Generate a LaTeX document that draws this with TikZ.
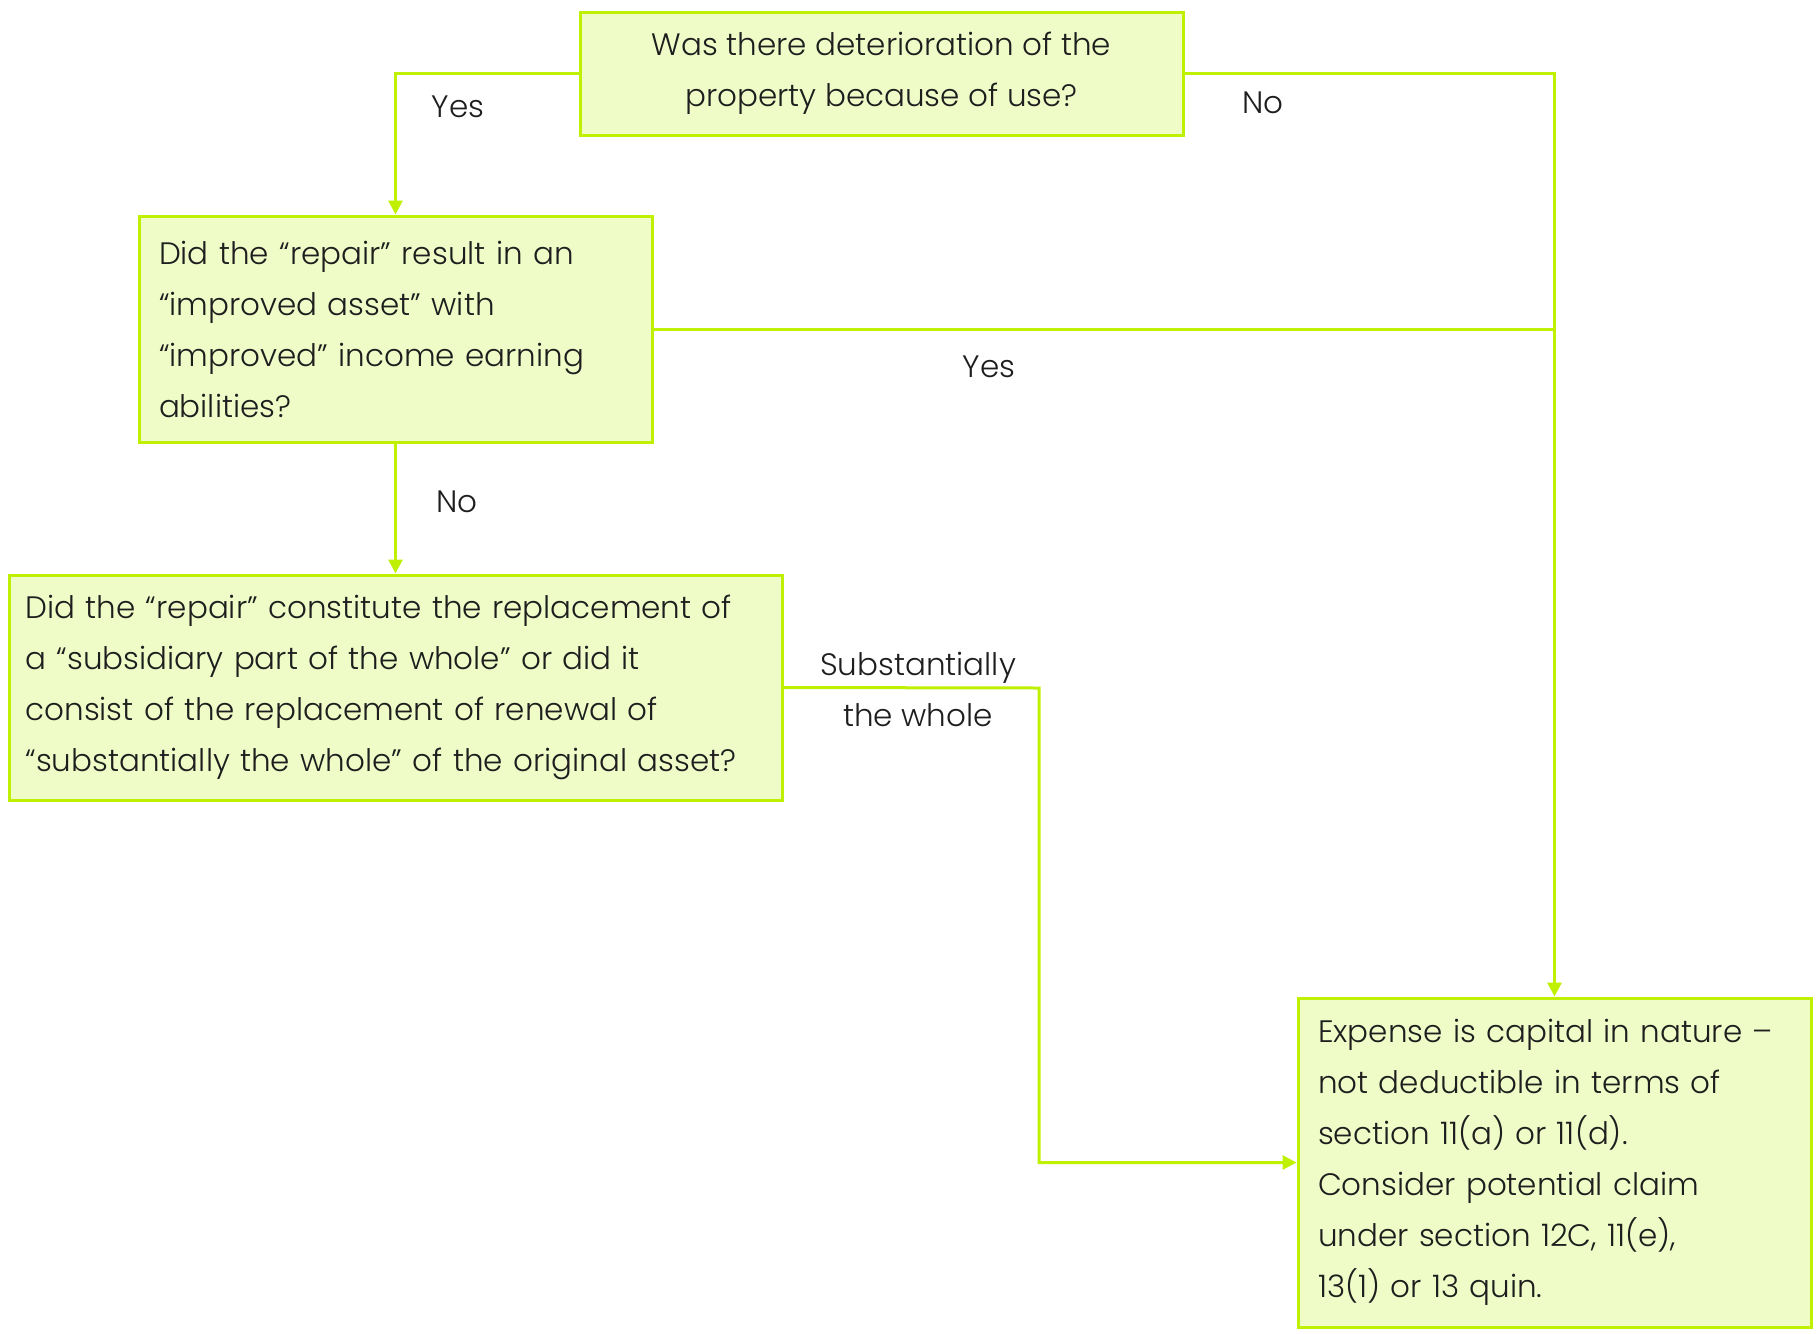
\documentclass[tikz,border=0pt]{standalone}
\usepackage{fontspec}
\setmainfont{Poppins Light}
\usetikzlibrary{arrows.meta}
\definecolor{lime}{RGB}{190,240,0}
\definecolor{limefill}{RGB}{240,252,200}
\definecolor{ink}{RGB}{30,30,30}
\tikzset{
  box/.style={draw=lime, fill=limefill, line width=1.5pt, inner sep=10pt, text=ink, font=\fontsize{15.5}{25.5}\selectfont},
  arr/.style={draw=lime, line width=1.5pt, -{Triangle[length=7pt,width=7pt]}},
  ln/.style={draw=lime, line width=1.5pt},
  lbl/.style={text=ink, font=\fontsize{15.5}{25.5}\selectfont, align=center}
}
\begin{document}
\begin{tikzpicture}[x=0.5pt,y=-0.5pt]
\useasboundingbox (0,0) rectangle (1819,1333);
\node[box, minimum width=301.5pt, minimum height=61.5pt, align=center] (b1) at (881.5,73.5)
  {Was there deterioration of the\\property because of use?};
\node[box, minimum width=256.5pt, minimum height=113pt, text width=236.5pt, align=left] (b2) at (395.5,329)
  {Did the “repair” result in an\\“improved asset” with\\“improved” income earning\\abilities?};
\node[box, minimum width=386.5pt, minimum height=112.5pt, text width=370pt, inner xsep=8pt, align=left] (b3) at (395.5,687.5)
  {\hyphenpenalty=10000 Did the “repair” constitute the replacement of\\a “subsidiary part of the whole” or did it\\consist of the replacement of renewal of\\“substantially the whole” of the original asset?};
\node[box, minimum width=256.5pt, minimum height=164.5pt, text width=236.5pt, align=left] (b4) at (1554.5,1162.5)
  {Expense is capital in nature –\\not deductible in terms of\\section 11(a) or 11(d).\\Consider potential claim\\under section 12C, 11(e),\\13(1) or 13 quin.};
\coordinate (k) at (1039,688);
\draw[arr] (b1.west) -| (b2.north);
\draw[arr] (b1.east) -| (b4.north);
\draw[ln] (b2.east) -- (b2.east -| b4.north);
\draw[arr] (b2.south) -- (b3.north);
\draw[arr] (b3.east) -- (k) |- (b4.west);
\node[lbl] (l1) at (458,107) {Yes};
\node[lbl] (l2) at (1263,103) {No};
\node[lbl] (l3) at (989,367) {Yes};
\node[lbl] (l4) at (457,502) {No};
\node[lbl] (l5) at (918,689) {Substantially\\the whole};
\end{tikzpicture}
\end{document}
